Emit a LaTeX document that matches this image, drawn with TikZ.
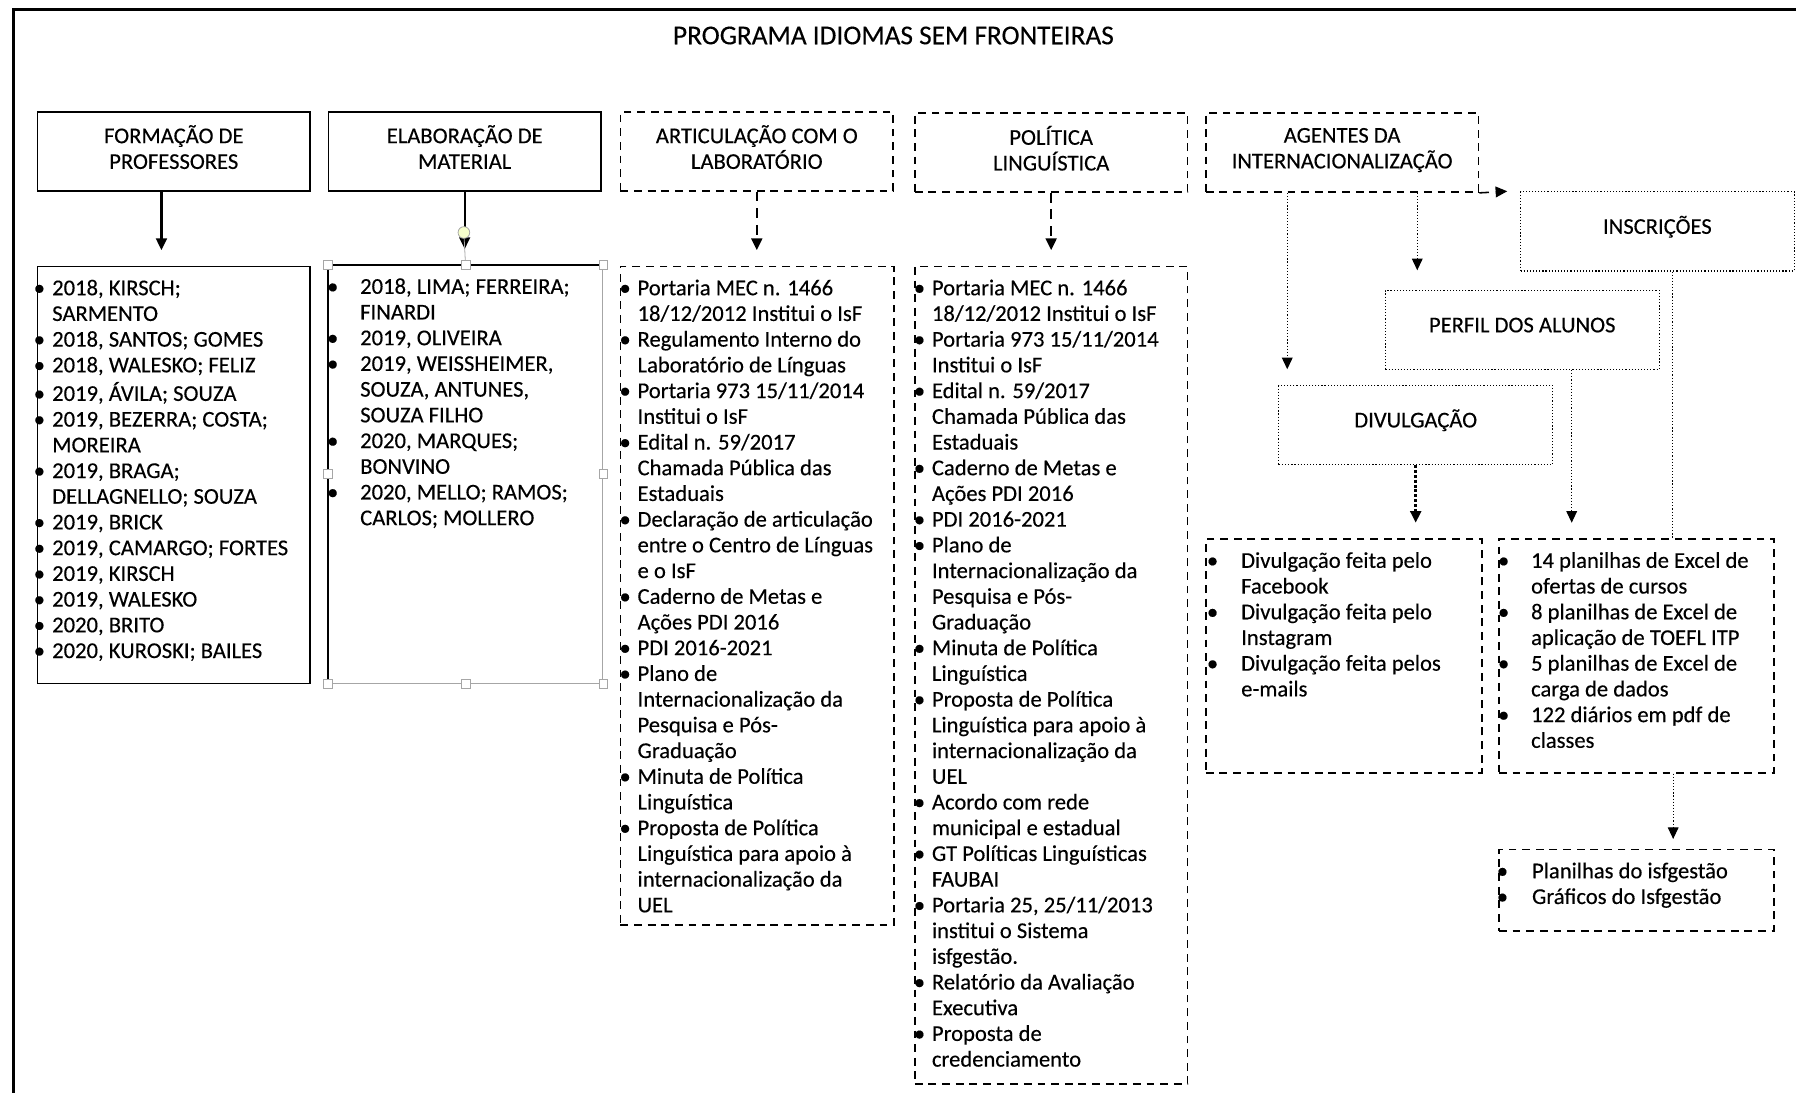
\documentclass[tikz,border=0pt]{standalone}
\usepackage{fontspec}
\setmainfont{Carlito}[FakeBold=0.3]
\usetikzlibrary{arrows.meta,positioning,calc}

\newlength{\bulw}
\newlength{\bulk}
\newcommand{\lbul}{\strut\makebox[\bulw][l]{\kern\bulk\makebox[0pt]{\textbullet}}}
\newcommand{\lind}{\hspace*{\bulw}}
\newcommand{\lstx}[5]{\parbox[t][#1][t]{#2}{\raggedright\setlength{\bulw}{#3}\setlength{\bulk}{#4}#5}}

\begin{document}
\begin{tikzpicture}[
  x=0.588pt, y=-0.588pt,
  font=\fontsize{11.6}{13.2}\selectfont,
  headbox/.style={rectangle, draw, line width=0.8pt, minimum width=140pt, minimum height=40.6pt, align=center, inner sep=2pt, anchor=north west, text depth=4.5pt},
  dashbox/.style={headbox, dash pattern=on 4pt off 3pt},
  dotbox/.style={headbox, line width=0.6pt, densely dotted, minimum width=140.5pt, text height=8pt, text depth=5.5pt},
  listbox/.style={rectangle, draw, line width=0.8pt, inner xsep=0pt, inner ysep=5.5pt, anchor=north west},
  dashlist/.style={listbox, dash pattern=on 4pt off 3pt},
  handle/.style={rectangle, draw=gray!70, fill=white, line width=0.4pt, minimum size=4.5pt, inner sep=0pt},
  arrow/.style={-{Triangle[length=6pt,width=5.5pt]}, line width=1.2pt},
  dasharrow/.style={arrow, dash pattern=on 5pt off 3.5pt},
  dotarrow/.style={-{Triangle[length=6pt,width=5.5pt]}, line width=0.6pt, densely dotted},
]
  \useasboundingbox (0,0) rectangle (1568,954);
  \draw[line width=1.6pt] (12,954) -- (12,8) -- (1568,8);

  \node[font=\fontsize{14}{16}\selectfont] (title) at (780,31) {PROGRAMA IDIOMAS SEM FRONTEIRAS};

  % top row
  \node[headbox] (formHead) at (32,97) {FORMAÇÃO DE\\PROFESSORES};
  \node[headbox] (elabHead) at (286,97) {ELABORAÇÃO DE\\MATERIAL};
  \node[dashbox] (artHead) at (541,97) {ARTICULAÇÃO COM O\\LABORATÓRIO};
  \node[dashbox] (polHead) at (798,98) {POLÍTICA\\LINGUÍSTICA};
  \node[dashbox] (agHead) at (1052,98) {AGENTES DA\\INTERNACIONALIZAÇÃO};

  % lists
  \node[listbox] (formList) at (32,232) {\lstx{203pt}{140pt}{7.6pt}{1pt}{%
    \lbul 2018, KIRSCH;\\
    \lind SARMENTO\\
    \lbul 2018, SANTOS; GOMES\\
    \lbul 2018, WALESKO; FELIZ\\
    \lbul 2019, ÁVILA; SOUZA\\
    \lbul 2019, BEZERRA; COSTA;\\
    \lind MOREIRA\\
    \lbul 2019, BRAGA;\\
    \lind DELLAGNELLO; SOUZA\\
    \lbul 2019, BRICK\\
    \lbul 2019, CAMARGO; FORTES\\
    \lbul 2019, KIRSCH\\
    \lbul 2019, WALESKO\\
    \lbul 2020, BRITO\\
    \lbul 2020, KUROSKI; BAILES}};
  \node[listbox, draw=gray!70, line width=0.5pt] (elabList) at (286,231) {\lstx{203.6pt}{141.1pt}{16.5pt}{2.4pt}{%
    \lbul 2018, LIMA; FERREIRA;\\
    \lind FINARDI\\
    \lbul 2019, OLIVEIRA\\
    \lbul 2019, WEISSHEIMER,\\
    \lind SOUZA, ANTUNES,\\
    \lind SOUZA FILHO\\
    \lbul 2020, MARQUES;\\
    \lind BONVINO\\
    \lbul 2020, MELLO; RAMOS;\\
    \lind CARLOS; MOLLERO}};
  \draw[line width=1pt] (elabList.south west) -- (elabList.north west) -- (elabList.north east);
  \node[dashlist] (artList) at (541,232) {\lstx{327.1pt}{140.5pt}{8.8pt}{2.4pt}{%
    \lbul Portaria MEC n. 1466\\
    \lind 18/12/2012 Institui o IsF\\
    \lbul Regulamento Interno do\\
    \lind Laboratório de Línguas\\
    \lbul Portaria 973 15/11/2014\\
    \lind Institui o IsF\\
    \lbul Edital n. 59/2017\\
    \lind Chamada Pública das\\
    \lind Estaduais\\
    \lbul Declaração de articulação\\
    \lind entre o Centro de Línguas\\
    \lind e o IsF\\
    \lbul Caderno de Metas e\\
    \lind Ações PDI 2016\\
    \lbul PDI 2016-2021\\
    \lbul Plano de\\
    \lind Internacionalização da\\
    \lind Pesquisa e Pós-\\
    \lind Graduação\\
    \lbul Minuta de Política\\
    \lind Linguística\\
    \lbul Proposta de Política\\
    \lind Linguística para apoio à\\
    \lind internacionalização da\\
    \lind UEL}};
  \node[dashlist] (polList) at (798,232) {\lstx{408.8pt}{140pt}{8.8pt}{2.4pt}{%
    \lbul Portaria MEC n. 1466\\
    \lind 18/12/2012 Institui o IsF\\
    \lbul Portaria 973 15/11/2014\\
    \lind Institui o IsF\\
    \lbul Edital n. 59/2017\\
    \lind Chamada Pública das\\
    \lind Estaduais\\
    \lbul Caderno de Metas e\\
    \lind Ações PDI 2016\\
    \lbul PDI 2016-2021\\
    \lbul Plano de\\
    \lind Internacionalização da\\
    \lind Pesquisa e Pós-\\
    \lind Graduação\\
    \lbul Minuta de Política\\
    \lind Linguística\\
    \lbul Proposta de Política\\
    \lind Linguística para apoio à\\
    \lind internacionalização da\\
    \lind UEL\\
    \lbul Acordo com rede\\
    \lind municipal e estadual\\
    \lbul GT Políticas Linguísticas\\
    \lind FAUBAI\\
    \lbul Portaria 25, 25/11/2013\\
    \lind institui o Sistema\\
    \lind isfgestão.\\
    \lbul Relatório da Avaliação\\
    \lind Executiva\\
    \lbul Proposta de\\
    \lind credenciamento}};

  % selection handles
  \foreach \a [count=\i] in {north west, north, north east, west, east, south west, south, south east}
    \node[handle] (hnd\i) at (elabList.\a) {};

  % agentes branch
  \node[dotbox] (inscr) at (1327,167) {INSCRIÇÕES};
  \node[dotbox] (perfil) at (1209,253) {PERFIL DOS ALUNOS};
  \node[dotbox] (divul) at (1116,336) {DIVULGAÇÃO};
  \node[dashlist] (divList) at (1052,470) {\lstx{109pt}{141.7pt}{18.2pt}{3.5pt}{%
    \lbul Divulgação feita pelo\\
    \lind Facebook\\
    \lbul Divulgação feita pelo\\
    \lind Instagram\\
    \lbul Divulgação feita pelos\\
    \lind e-mails}};
  \node[dashlist] (planList) at (1308,470) {\lstx{109pt}{141.1pt}{16.5pt}{2.4pt}{%
    \lbul 14 planilhas de Excel de\\
    \lind ofertas de cursos\\
    \lbul 8 planilhas de Excel de\\
    \lind aplicação de TOEFL ITP\\
    \lbul 5 planilhas de Excel de\\
    \lind carga de dados\\
    \lbul 122 diários em pdf de\\
    \lind classes}};
  \node[dashlist] (gestList) at (1308,741) {\lstx{30.7pt}{141.1pt}{17pt}{1.8pt}{%
    \lbul Planilhas do isfgestão\\
    \lbul Gráficos do Isfgestão}};

  % connectors
  \coordinate (fa) at ($(formHead.south west)!0.455!(formHead.south east)$);
  \draw[arrow, shorten >=8pt] (fa) -- (fa |- formList.north);
  \draw[arrow, shorten >=8pt] (elabHead.south) -- (elabHead.south |- elabList.north);
  \node[handle, circle, fill=green!15!yellow!20, minimum size=6pt] (rot) at (405,203) {};
  \draw[gray!70, line width=0.4pt] (rot) -- (hnd2);
  \draw[dasharrow, shorten >=8pt] (artHead.south) -- (artHead.south |- artList.north);
  \draw[dasharrow, shorten >=8pt] (polHead.south) -- (polHead.south |- polList.north);

  \draw[dasharrow, line width=0.8pt] (agHead.south east) -- ([xshift=-6.5pt]inscr.north west);
  \coordinate (ga) at ($(agHead.south west)!0.3!(agHead.south east)$);
  \coordinate (gb) at ($(agHead.south west)!0.774!(agHead.south east)$);
  \draw[dotarrow, shorten >=8pt] (ga) -- (ga |- divul.north);
  \draw[dotarrow, shorten >=10pt] (gb) -- (gb |- perfil.north);
  \draw[dotarrow, line width=1.5pt, dash pattern=on 1.5pt off 1pt, shorten >=8pt] (divul.south) -- (divul.south |- divList.north);
  \coordinate (pa) at ($(perfil.south west)!0.68!(perfil.south east)$);
  \draw[dotarrow, shorten >=8pt] (pa) -- (pa |- planList.north);
  \coordinate (ia) at ($(inscr.south west)!0.556!(inscr.south east)$);
  \draw[line width=0.6pt, densely dotted] (ia) -- (ia |- planList.north);
  \coordinate (la) at ($(planList.south west)!0.633!(planList.south east)$);
  \draw[dotarrow, shorten >=5pt] (la) -- (la |- gestList.north);
\end{tikzpicture}
\end{document}
